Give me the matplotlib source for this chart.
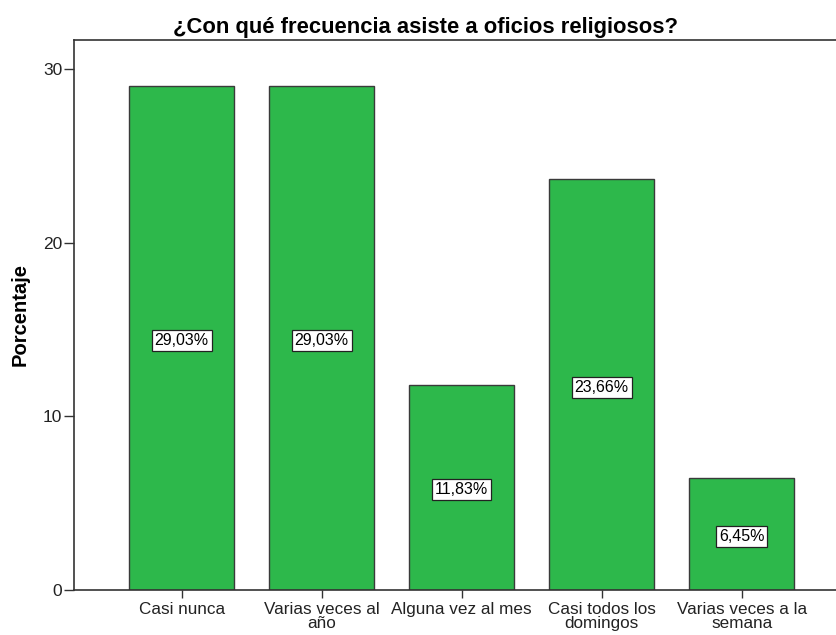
import matplotlib
matplotlib.use("Agg")
import matplotlib.pyplot as plt

categories = ["Casi nunca", "Varias veces al\naño", "Alguna vez al mes",
              "Casi todos los\ndomingos", "Varias veces a la\nsemana"]
values = [29.03, 29.03, 11.83, 23.66, 6.45]
labels = ["29,03%", "29,03%", "11,83%", "23,66%", "6,45%"]

plt.rcParams['font.family'] = ['Liberation Sans', 'DejaVu Sans']

fig = plt.figure(figsize=(8.37, 6.35), dpi=100)
ax = fig.add_axes([0.0884, 0.0709, 0.9116, 0.8661])

x = range(len(categories))
ax.bar(x, values, width=0.75, color="#2db84b", edgecolor="#3a3a3a", linewidth=1.0)

for i, v in enumerate(values):
    ax.text(i, v / 2 - 0.15, labels[i], ha="center", va="center", fontsize=11.5,
            bbox=dict(boxstyle="square,pad=0.18", facecolor="white", edgecolor="#222222", linewidth=0.9))

ax.set_xlim(-0.77, 4.68)
ax.set_ylim(0, 31.67)
ax.set_yticks([0, 10, 20, 30])
ax.set_xticks(list(x))
ax.set_xticklabels(categories, fontsize=12.3, linespacing=0.85, color="#222222")
ax.tick_params(axis="y", labelsize=12.5, length=7.5, width=1, color="#333333", pad=1, labelcolor="#222222")
ax.tick_params(axis="x", length=6, width=1, color="#333333", pad=3)
ax.spines["right"].set_visible(False)
for s in ["left", "top", "bottom"]:
    ax.spines[s].set_color("#333333")
    ax.spines[s].set_linewidth(1.2)

fig.text(20 / 837, 0.504, "Porcentaje", rotation=90, ha="center", va="center",
         fontsize=14.5, fontweight="bold")
fig.suptitle("¿Con qué frecuencia asiste a oficios religiosos?", x=0.508, y=0.957,
             va="center", fontsize=15.8, fontweight="bold")

fig.savefig("out.png", dpi=100)
